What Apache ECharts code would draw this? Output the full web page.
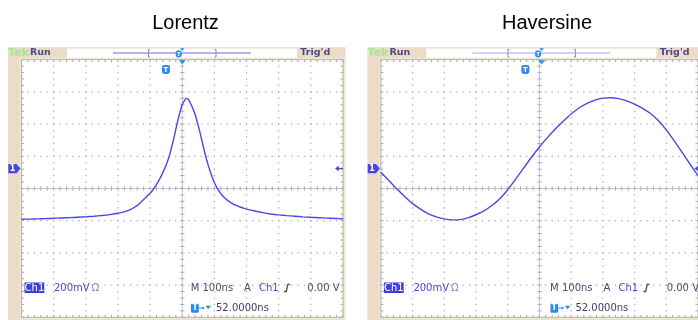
<!DOCTYPE html>
<html>
<head>
<meta charset="utf-8">
<script src="https://cdn.jsdelivr.net/npm/echarts@6/dist/echarts.min.js"></script>
<style>
html, body { margin: 0; padding: 0; background: #ffffff; }
#c { width: 698px; height: 320px; }
</style>
</head>
<body>
<div id="c"></div>
<script>
// Horizontal scale: 100 ns/div, vertical scale: 200 mV/div
const timeTicks = [-500, -400, -300, -200, -100, 0, 100, 200, 300, 400, 500];
const voltTicks = [-800, -600, -400, -200, 0, 200, 400, 600, 800];
const panelTitles = ['Lorentz', 'Haversine'];

// Lorentzian pulse, time (ns) and screen voltage (mV)
const lorentzTime = [
  -500, -475, -450, -425, -400, -375, -350, -325, -300, -275, -250, -225,
  -200, -190, -180, -170, -160, -150, -140, -130, -120, -110, -100, -90, -80, -70, -60, -50, -40, -30, -20, -10,
  0, 10, 13, 20, 30, 40, 50, 60, 70, 80, 90, 100, 110, 120, 130, 140, 150, 160, 170, 180, 190, 200,
  225, 250, 275, 300, 325, 350, 375, 400, 425, 450, 475, 500
];
const lorentzVolt = [
  -191, -190, -188.5, -187, -185, -183, -181, -178.5, -176, -172.5, -168, -162,
  -154, -150, -145, -138, -129, -118, -105, -88, -69, -49, -29, -6, 25, 60, 100, 146, 204, 280, 368, 452,
  522, 555, 560, 551, 511, 460, 389, 308, 222, 150, 88, 36, -2, -32, -55, -72, -86, -98, -107, -115, -122, -128,
  -140, -150, -158, -164, -168.5, -172, -176, -179, -181.5, -184, -186, -188
];

// Haversine wave, time (ns) and screen voltage (mV)
const haversineTime = [
  -500, -475, -450, -425, -400, -375, -350, -325, -300, -275, -250, -225, -200, -175, -150, -125, -100, -75, -50, -25,
  0, 25, 50, 75, 100, 125, 150, 175, 200, 225, 250, 275, 300, 325, 350, 375, 400, 425, 450, 475, 500
];
const haversineVolt = [
  101, 50, -2, -50, -94, -128, -157, -176, -189, -195, -193, -182, -163, -139, -106, -64, -8, 58, 126, 194,
  258, 316, 370, 418, 463, 500, 529, 549, 561, 564, 558, 544, 524, 498, 466, 422, 364, 296, 224, 151, 80
];

const FONT = 'DejaVu Sans';
const BEIGE = '#EBDBC9';
const BLUE = '#4646E0';
const DARK = '#4A4A70';
const TBLUE = '#2A8CF0';

// Two scope screens side by side
const screens = [
  { left: 21.5, top: 59.7, width: 321.5, height: 257.6, dx: 0, barLine: '#6A6AE0' },
  { left: 380.9, top: 59.7, width: 321.5, height: 257.6, dx: 359.4, barLine: '#A6A6F2' }
];

function zip(a, b) { return a.map((v, i) => [v, b[i]]); }

// Graticule: dotted division lines, center cross with minor ticks, bordered edges
function graticule(params, api) {
  const c = (t, v) => api.coord([t, v]);
  const tMin = timeTicks[0], tMax = timeTicks[timeTicks.length - 1];
  const vMin = voltTicks[0], vMax = voltTicks[voltTicks.length - 1];
  const [xl, yt] = c(tMin, vMax);
  const [xr, yb] = c(tMax, vMin);
  const [cx, cy] = c(0, 0);
  const tStep = (timeTicks[1] - timeTicks[0]) / 5;
  const vStep = (voltTicks[1] - voltTicks[0]) / 5;
  const kids = [];
  kids.push({ type: 'rect', shape: { x: xl, y: yt, width: xr - xl, height: yb - yt }, style: { fill: '#ffffff' } });
  const dot = (x, y) => kids.push({ type: 'rect', shape: { x: x - 0.6, y: y - 0.6, width: 1.2, height: 1.2 }, style: { fill: '#A4A4A4' } });
  timeTicks.forEach(t => {
    if (t === tMin || t === tMax || t === 0) return;
    for (let v = vMin; v <= vMax; v += vStep) { const p = c(t, v); dot(p[0], p[1]); }
  });
  voltTicks.forEach(v => {
    if (v === vMin || v === vMax || v === 0) return;
    for (let t = tMin; t <= tMax; t += tStep) { const p = c(t, v); dot(p[0], p[1]); }
  });
  const line = (x1, y1, x2, y2, color, w) => kids.push({ type: 'line', shape: { x1, y1, x2, y2 }, style: { stroke: color, lineWidth: w || 1 } });
  // center cross
  line(xl, cy, xr, cy, '#C4C4D0');
  line(cx, yt, cx, yb, '#C4C4D0');
  for (let t = tMin; t <= tMax; t += tStep) { const x = c(t, 0)[0]; line(x, cy - 2.2, x, cy + 2.2, '#A8A8BC'); }
  for (let v = vMin; v <= vMax; v += vStep) { const y = c(0, v)[1]; line(cx - 2.2, y, cx + 2.2, y, '#A8A8BC'); }
  // edge ticks
  for (let t = tMin; t <= tMax; t += tStep) {
    const x = c(t, 0)[0];
    line(x, yt, x, yt + 2.5, '#A8A8A8');
    line(x, yb, x, yb - 2.5, '#A8A8A8');
  }
  for (let v = vMin; v <= vMax; v += vStep) {
    const y = c(0, v)[1];
    line(xl, y, xl + 2.5, y, '#A8A8A8');
    line(xr, y, xr - 2.5, y, '#A8A8A8');
  }
  kids.push({ type: 'rect', shape: { x: xl - 1.5, y: yt - 1.5, width: xr - xl + 3, height: yb - yt + 3 }, style: { fill: null, stroke: '#F3ECCC', lineWidth: 1 } });
  kids.push({ type: 'rect', shape: { x: xl, y: yt, width: xr - xl, height: yb - yt }, style: { fill: null, stroke: '#B4B4B4', lineWidth: 1 } });
  return { type: 'group', children: kids };
}

function txt(x, y, text, size, color, weight, extra) {
  return Object.assign({
    type: 'text', x, y, z: 20,
    style: { text, fill: color, font: (weight || 'normal') + ' ' + size + 'px "' + FONT + '"', verticalAlign: 'middle', align: 'left' }
  }, extra || {});
}

function tBadge(cx, cy, w, h) {
  return [
    { type: 'rect', z: 20, shape: { x: cx - w / 2, y: cy - h / 2, width: w, height: h, r: [2, 2, 3, 3] }, style: { fill: TBLUE } },
    { type: 'text', z: 21, x: cx, y: cy + 0.5, style: { text: 'T', fill: '#ffffff', font: 'bold ' + (h - 2) + 'px "' + FONT + '"', align: 'center', verticalAlign: 'middle' } }
  ];
}

function decorations(s) {
  const d = s.dx;
  const els = [];
  // beige bezel and status bar
  els.push({ type: 'rect', z: -5, shape: { x: 8 + d, y: 47.3, width: 337.5, height: 273 }, style: { fill: BEIGE } });
  els.push({ type: 'rect', z: -4, shape: { x: 67 + d, y: 48.5, width: 230, height: 9.5 }, style: { fill: '#ffffff' } });
  els.push(txt(8 + d, 53, 'Tek', 11, '#A6E890', 'bold'));
  els.push(txt(30 + d, 53, 'Run', 9.5, '#4B4B8A', 'bold'));
  els.push(txt(300.3 + d, 53, "Trig'd", 9.5, '#4B4B8A', 'bold'));
  // record view in status bar
  els.push({ type: 'line', z: 10, shape: { x1: 113 + d, y1: 53, x2: 251 + d, y2: 53 }, style: { stroke: s.barLine, lineWidth: 1 } });
  els.push({ type: 'polyline', z: 10, shape: { points: [[150 + d, 49.5], [148.5 + d, 49.5], [148.5 + d, 57], [150 + d, 57]] }, style: { fill: null, stroke: '#8A8AA8', lineWidth: 1 } });
  els.push({ type: 'polyline', z: 10, shape: { points: [[214.5 + d, 49.5], [216 + d, 49.5], [216 + d, 57], [214.5 + d, 57]] }, style: { fill: null, stroke: '#8A8AA8', lineWidth: 1 } });
  tBadge(178.7 + d, 54, 6, 7).forEach(e => els.push(e));
  els.push({ type: 'polygon', z: 22, shape: { points: [[180 + d, 48.3], [184.5 + d, 48.3], [182.2 + d, 51]] }, style: { fill: TBLUE } });
  // trigger position on the screen
  els.push({ type: 'polygon', z: 22, shape: { points: [[178.8 + d, 60.2], [185.8 + d, 60.2], [182.3 + d, 64.2]] }, style: { fill: TBLUE } });
  tBadge(166 + d, 69.6, 8, 9).forEach(e => els.push(e));
  // channel 1 ground marker
  els.push({ type: 'polygon', z: 20, shape: { points: [[8.3 + d, 164], [16.5 + d, 164], [20.5 + d, 168.6], [16.5 + d, 173.3], [8.3 + d, 173.3]] }, style: { fill: BLUE } });
  els.push({ type: 'text', z: 21, x: 12.6 + d, y: 168.8, style: { text: '1', fill: '#ffffff', font: 'bold 8px "' + FONT + '"', align: 'center', verticalAlign: 'middle' } });
  // trigger level marker
  els.push({ type: 'polygon', z: 20, shape: { points: [[335 + d, 168.5], [338.8 + d, 165.8], [338.8 + d, 171.2]] }, style: { fill: BLUE } });
  els.push({ type: 'line', z: 20, shape: { x1: 338 + d, y1: 168.5, x2: 343 + d, y2: 168.5 }, style: { stroke: BLUE, lineWidth: 1.2 } });
  // readouts
  els.push({ type: 'rect', z: 19, shape: { x: 24.5 + d, y: 282.5, width: 19.8, height: 10.5 }, style: { fill: '#3E3EDC' } });
  els.push(txt(24.6 + d, 288, 'Ch1', 10, '#ffffff'));
  els.push(txt(54 + d, 288, '200mV', 10, '#4848D8'));
  els.push(txt(91.5 + d, 288, 'Ω', 10, '#8C8CD0'));
  els.push(txt(190.7 + d, 288, 'M 100ns', 10, DARK));
  els.push(txt(244 + d, 288, 'A', 10, DARK));
  els.push(txt(259 + d, 288, 'Ch1', 10, '#4848D8'));
  els.push({ type: 'polyline', z: 20, shape: { points: [[284 + d, 291.5], [286.3 + d, 291.5], [287.8 + d, 284.3], [290.2 + d, 284.3]] }, style: { fill: null, stroke: DARK, lineWidth: 1.3 } });
  els.push(txt(307.3 + d, 288, '0.00 V', 10, DARK));
  els.push({ type: 'rect', z: 19, shape: { x: 191 + d, y: 303.3, width: 7.8, height: 9.5, r: 1.5 }, style: { fill: TBLUE } });
  els.push({ type: 'text', z: 21, x: 194.9 + d, y: 308.3, style: { text: 'T', fill: '#ffffff', font: 'bold 8px "' + FONT + '"', align: 'center', verticalAlign: 'middle' } });
  els.push({ type: 'line', z: 20, shape: { x1: 199 + d, y1: 308, x2: 204 + d, y2: 308 }, style: { stroke: TBLUE, lineWidth: 1 } });
  els.push({ type: 'polygon', z: 20, shape: { points: [[202.5 + d, 306.3], [204.5 + d, 308], [202.5 + d, 309.7]] }, style: { fill: TBLUE } });
  els.push({ type: 'polygon', z: 20, shape: { points: [[205.5 + d, 305.7], [211 + d, 305.7], [208.2 + d, 309.3]] }, style: { fill: TBLUE } });
  els.push(txt(216 + d, 308, '52.0000ns', 10, '#404068'));
  return els;
}

const chart = echarts.init(document.getElementById('c'), null, { renderer: 'canvas' });

const grids = screens.map(s => ({ left: s.left, top: s.top, width: s.width, height: s.height, containLabel: false, show: false }));
const axisCommon = { show: false, splitLine: { show: false } };
const xAxes = screens.map((s, i) => Object.assign({ type: 'value', gridIndex: i, min: timeTicks[0], max: timeTicks[timeTicks.length - 1], interval: 100 }, axisCommon));
const yAxes = screens.map((s, i) => Object.assign({ type: 'value', gridIndex: i, min: voltTicks[0], max: voltTicks[voltTicks.length - 1], interval: 200 }, axisCommon));

const traces = [zip(lorentzTime, lorentzVolt), zip(haversineTime, haversineVolt)];

const series = [];
screens.forEach((s, i) => {
  series.push({ type: 'custom', xAxisIndex: i, yAxisIndex: i, z: 1, silent: true, clip: false, renderItem: graticule, data: [[0, 0]] });
});
screens.forEach((s, i) => {
  series.push({
    type: 'line', xAxisIndex: i, yAxisIndex: i, z: 5, data: traces[i],
    smooth: 0.2, showSymbol: false, silent: true,
    lineStyle: { color: '#4848E6', width: 1.4 }
  });
});

const centers = [180.5, 542];
chart.setOption({
  animation: false,
  backgroundColor: '#ffffff',
  title: panelTitles.map((text, i) => ({
    text, left: centers[i], top: 8, textAlign: 'center',
    textStyle: { fontFamily: 'Liberation Sans', fontSize: 20, fontWeight: 'normal', color: '#000000' }
  })),
  grid: grids,
  xAxis: xAxes,
  yAxis: yAxes,
  series,
  graphic: { elements: screens.flatMap(decorations) }
});
</script>
</body>
</html>
